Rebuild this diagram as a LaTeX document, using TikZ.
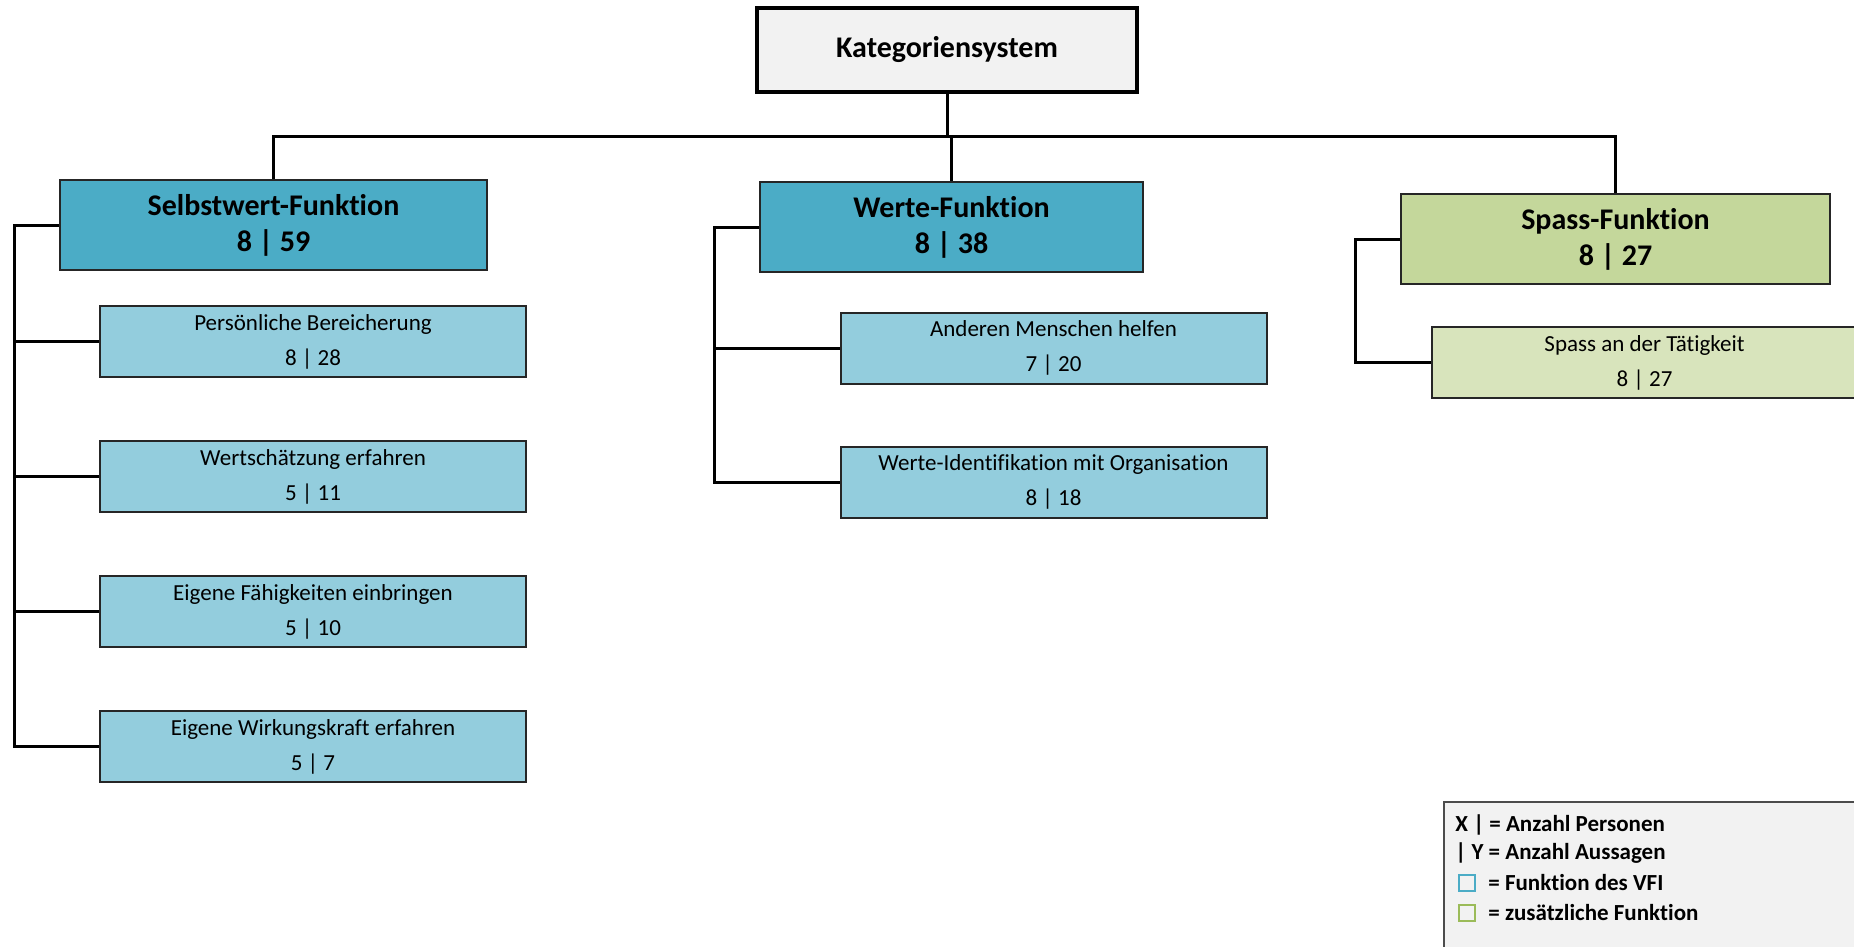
\documentclass[tikz,border=0pt]{standalone}
\usepackage{fontspec}
\setmainfont{Carlito}[Ligatures=NoCommon]
\definecolor{headblue}{HTML}{4BACC6}
\definecolor{subblue}{HTML}{93CDDD}
\definecolor{headgreen}{HTML}{C4D79B}
\definecolor{subgreen}{HTML}{D8E4BC}
\definecolor{rootgray}{HTML}{F2F2F2}
\definecolor{legblue}{HTML}{4BACC6}
\definecolor{leggreen}{HTML}{9BBB59}
\begin{document}
\begin{tikzpicture}[x=0.5pt,y=-0.5pt,
  box/.style={draw=black!85, line width=1pt, rectangle, inner sep=0pt, align=center},
  rootbox/.style={box, line width=1.6pt, draw=black, fill=rootgray, minimum width=190pt, minimum height=42pt, font=\fontsize{15}{18}\selectfont\bfseries},
  head/.style={box, fill=headblue, minimum height=45pt, font=\fontsize{15}{18}\selectfont\bfseries},
  greenhead/.style={head, fill=headgreen},
  sub/.style={box, fill=subblue, minimum width=213pt, minimum height=35.5pt, font=\fontsize{11.5}{17.5}\selectfont},
  greensub/.style={sub, fill=subgreen},
  link/.style={line width=1.5pt, draw=black},
  legtext/.style={anchor=west, inner sep=0pt, font=\fontsize{11.5}{13}\selectfont\bfseries},
  legsq/.style={draw=#1, line width=1.2pt, minimum size=8pt, inner sep=0pt, fill=rootgray}]
\useasboundingbox (0,0) rectangle (1854,947);
\clip (0,0) rectangle (1854,947);

% root
\node[rootbox] (root) at (947,50) {Kategoriensystem};

% main functions
\node[head, minimum width=213.5pt] (sw) at (273.5,225) {Selbstwert-Funktion\\8 | 59};
\node[head, minimum width=191.5pt] (wf) at (951.5,227) {Werte-Funktion\\8 | 38};
\node[greenhead, minimum width=214.5pt] (sp) at (1615.5,239) {Spass-Funktion\\8 | 27};

% sub categories
\node[sub] (sw1) at (313,341.5) {Persönliche Bereicherung\\8 | 28};
\node[sub] (sw2) at (313,476.5) {Wertschätzung erfahren\\5 | 11};
\node[sub] (sw3) at (313,611.5) {Eigene Fähigkeiten einbringen\\5 | 10};
\node[sub] (sw4) at (313,746.5) {Eigene Wirkungskraft erfahren\\5 | 7};
\node[sub] (wf1) at (1053.5,348) {Anderen Menschen helfen\\7 | 20};
\node[sub] (wf2) at (1053.5,482) {Werte-Identifikation mit Organisation\\8 | 18};
\node[greensub] (sp1) at (1644.5,362.5) {Spass an der Tätigkeit\\8 | 27};

% top connectors
\coordinate (bar) at (947,137);
\draw[link] (root.south) -- (root.south |- bar);
\draw[link] (sw.north) -- (sw.north |- bar) -- (sp.north |- bar) -- (sp.north);
\draw[link] (wf.north) -- (wf.north |- bar);

% side rails
\coordinate (swr) at (14,225);
\coordinate (wfr) at (714,227);
\coordinate (spr) at (1355,239);
\draw[link] (sw.west) -- (swr) |- (sw4.west);
\draw[link] (swr |- sw1.west) -- (sw1.west);
\draw[link] (swr |- sw2.west) -- (sw2.west);
\draw[link] (swr |- sw3.west) -- (sw3.west);
\draw[link] (wf.west) -- (wfr) |- (wf2.west);
\draw[link] (wfr |- wf1.west) -- (wf1.west);
\draw[link] (sp.west) -- (spr) |- (sp1.west);

% legend
\node[draw=black!70, line width=1pt, fill=rootgray, anchor=north west, minimum width=214pt, minimum height=80pt, inner sep=0pt] (legend) at (1443,801) {};
\node[legtext] (l1) at (1455,825) {X | = Anzahl Personen};
\node[legtext] (l2) at (1455,853) {| Y = Anzahl Aussagen};
\node[legsq=legblue] (sqb) at (1467,883) {};
\node[legtext] (l3) at (1488,883) {= Funktion des VFI};
\node[legsq=leggreen] (sqg) at (1467,913) {};
\node[legtext] (l4) at (1488,913) {= zusätzliche Funktion};
\end{tikzpicture}
\end{document}
